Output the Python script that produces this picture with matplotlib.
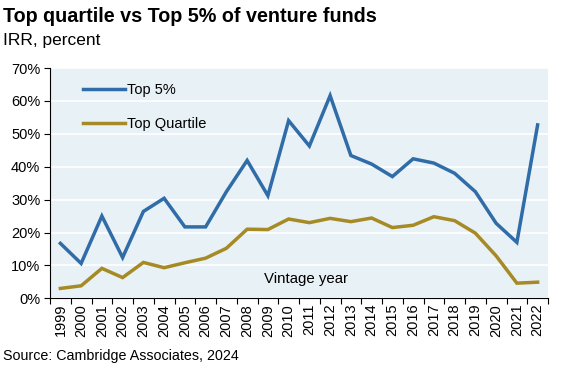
import numpy as np
import matplotlib.pyplot as plt
from matplotlib.ticker import FixedLocator, PercentFormatter

plt.rcParams['font.family'] = ['Liberation Sans', 'DejaVu Sans']

years = [str(y) for y in range(1999, 2023)]
top5 = [16.7, 10.6, 25.0, 12.4, 26.4, 30.4, 21.7, 21.7, 32.4, 41.9, 31.2, 54.0,
        46.3, 61.6, 43.4, 40.8, 37.0, 42.4, 41.1, 38.0, 32.4, 22.8, 17.0, 52.7]
top_quartile = [3.0, 3.8, 9.1, 6.3, 10.9, 9.3, 10.8, 12.2, 15.2, 21.0, 20.9, 24.1,
                23.0, 24.3, 23.3, 24.4, 21.5, 22.2, 24.8, 23.6, 19.8, 12.9, 4.6, 4.9]

blue = '#2F6CA8'
gold = '#A68A25'
bg = '#E8F1F5'

fig = plt.figure(figsize=(5.64, 3.75), dpi=100)
ax = fig.add_axes([50/564, 1 - 298.3/375, 498/564, 230.3/375])
ax.set_facecolor(bg)

x = np.arange(len(years))
ax.plot(x, top5, color=blue, lw=2.5, label='Top 5%', solid_joinstyle='miter')
ax.plot(x, top_quartile, color=gold, lw=2.5, label='Top Quartile', solid_joinstyle='miter')

ax.set_xlim(-0.5, len(years) - 0.5)
ax.set_ylim(0, 70)
ax.set_yticks(np.arange(0, 71, 10))
ax.yaxis.set_major_formatter(PercentFormatter(decimals=0))
ax.grid(axis='y', color='white', lw=1.2)
ax.set_axisbelow(True)

ax.set_xticks(x)
ax.set_xticklabels(years, rotation=90)
ax.tick_params(axis='x', which='major', length=0, pad=4)
ax.xaxis.set_minor_locator(FixedLocator(np.arange(-0.5, len(years), 1)))
ax.tick_params(axis='x', which='minor', length=4, width=0.8, direction='out')
ax.tick_params(axis='y', length=4, width=0.8, pad=3)
ax.tick_params(labelsize=10.5)

for s in ['top', 'right']:
    ax.spines[s].set_visible(False)
ax.spines['left'].set_linewidth(0.8)
ax.spines['bottom'].set_linewidth(0.8)

ax.legend(loc='upper left', bbox_to_anchor=(0.04, 0.99), frameon=False,
          fontsize=10.5, handlelength=2.9, handletextpad=0.1, labelspacing=1.35)

ax.text(0.43, 0.085, 'Vintage year', transform=ax.transAxes, fontsize=10.8, va='center')

fig.text(3/564, 1 - 17/375, 'Top quartile vs Top 5% of venture funds',
         fontsize=14.2, fontweight='bold', va='center')
fig.text(3/564, 1 - 40/375, 'IRR, percent', fontsize=12.5, va='center')
fig.text(3/564, 1 - 356/375, 'Source: Cambridge Associates, 2024', fontsize=10.3, va='center')

fig.savefig('out.png', dpi=100)
